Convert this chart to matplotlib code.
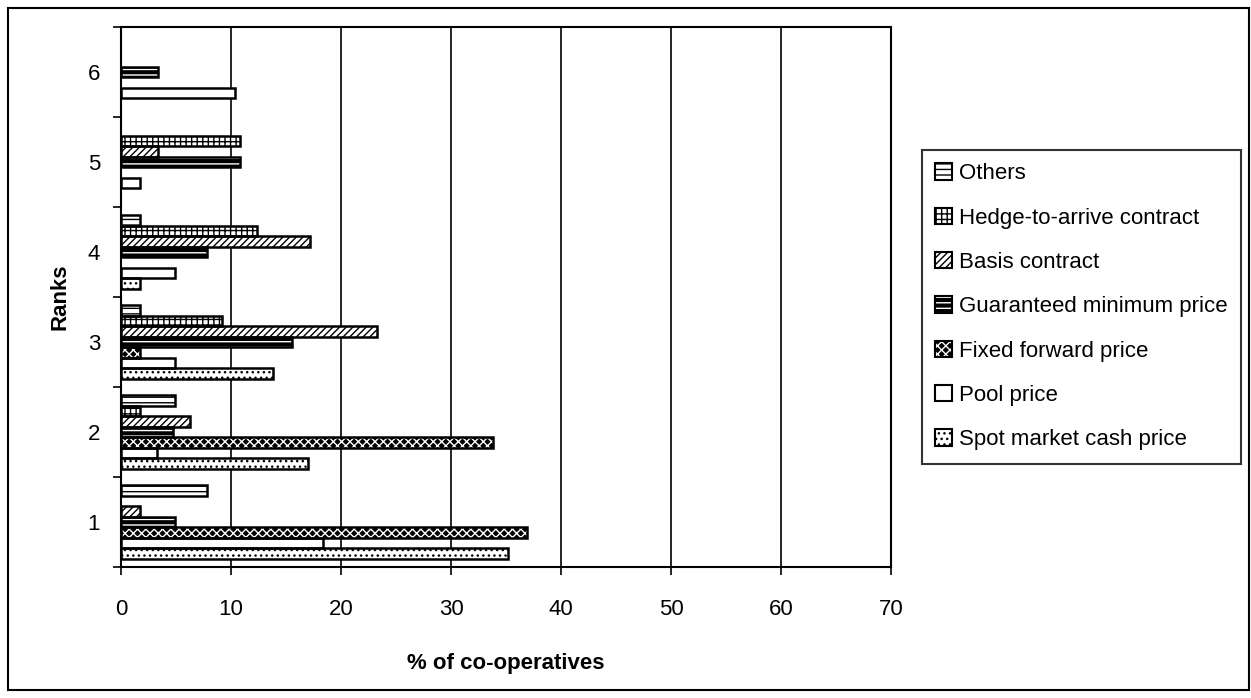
import numpy as np
import matplotlib.pyplot as plt
from matplotlib.patches import Patch, Rectangle

plt.rcParams['font.family'] = ['Liberation Sans', 'DejaVu Sans']

ranks = [1, 2, 3, 4, 5, 6]
# series in drawing order (bottom of each group first)
series = ["Spot market cash price", "Pool price", "Fixed forward price",
          "Guaranteed minimum price", "Basis contract",
          "Hedge-to-arrive contract", "Others"]
spot = [35.2, 17.0, 13.8, 1.7, 0, 0]
pool = [18.4, 3.3, 4.9, 4.9, 1.7, 10.4]
fixed = [36.9, 33.8, 1.7, 0, 0, 0]
guaranteed = [4.9, 4.7, 15.5, 7.8, 10.8, 3.4]
basis = [1.7, 6.3, 23.3, 17.2, 3.4, 0]
hedge = [0, 1.7, 9.2, 12.4, 10.8, 0]
others = [7.8, 4.9, 1.7, 1.7, 0, 0]
values = [spot, pool, fixed, guaranteed, basis, hedge, others]

# face colour, hatch colour, hatch
styles = [("white", "black", "..."),
          ("white", "white", ""),
          ("black", "white", "xxxx"),
          ("black", "white", "---"),
          ("white", "black", "/////"),
          ("white", "black", "+++"),
          ("white", "black", "---")]

fig = plt.figure(figsize=(12.51, 6.98), dpi=100)
ax = fig.add_axes([121 / 1251, 1 - 567 / 698, 770 / 1251, 540 / 698])

n = len(series)
h = 1 / (n + 1.5)
y = np.array(ranks, dtype=float)
handles = []
for k, (name, vals, (fc, hc, hat)) in enumerate(zip(series, values, styles)):
    vals = np.array(vals)
    pos = y - 0.5 + (0.75 + k + 0.5) * h
    keep = vals > 0   # skip empty bars, no outline at x=0
    ax.barh(pos[keep], vals[keep], height=h, color=fc, edgecolor=hc, hatch=hat,
            linewidth=0, zorder=3)
    ax.barh(pos[keep], vals[keep], height=h, fill=False, edgecolor="black",
            linewidth=1.8, zorder=4)
    handles.append((Patch(facecolor=fc, edgecolor=hc, hatch=hat, linewidth=0),
                    Patch(fill=False, edgecolor="black", linewidth=1.5)))

ax.set_xlim(0, 70)
ax.set_ylim(0.5, 6.5)
ax.set_xticks(np.arange(0, 71, 10))
ax.xaxis.grid(True, color="black", linewidth=1.2, zorder=0)
ax.set_yticks(np.arange(0.5, 6.6, 1))
ax.set_yticklabels([])
ax.set_yticks(ranks, minor=True)
ax.set_yticklabels([str(r) for r in ranks], minor=True)
ax.tick_params(axis="y", which="minor", length=0, pad=15, labelsize=16)
ax.tick_params(axis="y", which="major", length=6, width=1.2)
ax.tick_params(axis="x", length=6, width=1.2, pad=17, labelsize=16)
for s in ax.spines.values():
    s.set_linewidth(1.5)

ax.set_xlabel("% of co-operatives", fontsize=16, fontweight="bold", labelpad=24)
ax.set_ylabel("Ranks", fontsize=16, fontweight="bold")
ax.yaxis.set_label_coords(-0.066, 0.5)

leg = fig.legend(handles[::-1], series[::-1], loc="upper left",
                 bbox_to_anchor=(922 / 1251, 1 - 150 / 698),
                 fontsize=16, frameon=True, fancybox=False, edgecolor="black",
                 handlelength=0.75, handleheight=0.75, handletextpad=0.3,
                 labelspacing=1.05, borderpad=0.6, borderaxespad=0)
leg.get_frame().set_linewidth(1.5)

fig.patches.append(Rectangle((8 / 1251, 8 / 698), 1241 / 1251, 1 - 16 / 698,
                             transform=fig.transFigure, fill=False,
                             edgecolor="black", linewidth=1.5))

fig.savefig("out.png", dpi=100)
